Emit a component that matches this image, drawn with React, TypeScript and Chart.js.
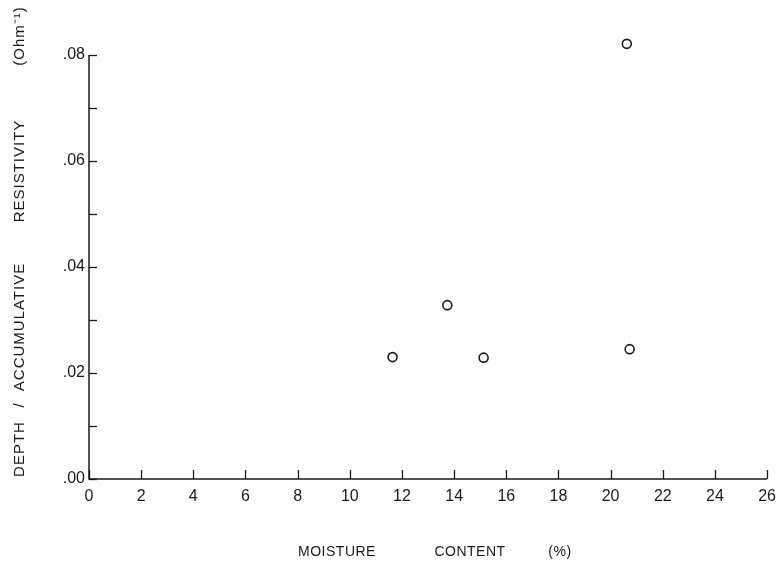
import React, { useEffect, useRef } from "react";
import { Chart, registerables } from "chart.js";

Chart.register(...registerables);

const moisture = [11.64, 13.74, 15.13, 20.62, 20.73];
const conductance = [0.0230, 0.0328, 0.0229, 0.0821, 0.0245];
const xTicks = [0, 2, 4, 6, 8, 10, 12, 14, 16, 18, 20, 22, 24, 26];
const yTicks = [0, 0.01, 0.02, 0.03, 0.04, 0.05, 0.06, 0.07, 0.08];
const yLabelled = [0, 0.02, 0.04, 0.06, 0.08];
const xTitleWords = ["MOISTURE", "CONTENT", "(%)"];
const yTitleWords = ["DEPTH", "/", "ACCUMULATIVE", "RESISTIVITY", "(Ohm\u207B\u00B9)"];

const INK = "#1a1a1a";
const FONT = "'Liberation Sans', Arial, sans-serif";

const decorPlugin = {
  id: "decor",
  afterDraw(chart: any) {
    const { ctx, chartArea, scales } = chart;
    const xs = scales.x;
    const ys = scales.y;
    const left = chartArea.left;
    const bottom = chartArea.bottom;
    ctx.save();
    ctx.strokeStyle = INK;
    ctx.lineWidth = 1.5;
    // axis lines
    const yTop = ys.getPixelForValue(yTicks[yTicks.length - 1]);
    const xRight = xs.getPixelForValue(xTicks[xTicks.length - 1]);
    ctx.beginPath();
    ctx.moveTo(left, yTop);
    ctx.lineTo(left, bottom);
    ctx.lineTo(xRight, bottom);
    ctx.stroke();
    ctx.lineWidth = 1.3;
    yTicks.forEach((v) => {
      const py = Math.round(ys.getPixelForValue(v)) + 0.5;
      ctx.beginPath();
      ctx.moveTo(left, py);
      ctx.lineTo(left + 8, py);
      ctx.stroke();
    });
    xTicks.forEach((v) => {
      const px = Math.round(xs.getPixelForValue(v)) + 0.5;
      ctx.beginPath();
      ctx.moveTo(px, bottom);
      ctx.lineTo(px, bottom - 9);
      ctx.stroke();
    });
    // axis titles
    ctx.fillStyle = INK;
    ctx.textAlign = "center";
    ctx.textBaseline = "middle";
    ctx.font = `14px ${FONT}`;
    (ctx as any).letterSpacing = "0.5px";
    const xCenters = [337, 470, 560];
    xTitleWords.forEach((w, i) => ctx.fillText(w, xCenters[i], 552));
    ctx.font = `15px ${FONT}`;
    (ctx as any).letterSpacing = "1px";
    const yCenters = [449, 405, 327, 171, 36];
    yTitleWords.forEach((w, i) => {
      ctx.save();
      ctx.translate(20, yCenters[i]);
      ctx.rotate(-Math.PI / 2);
      ctx.fillText(w, 0, 0);
      ctx.restore();
    });
    ctx.restore();
  },
};

export default function App() {
  const ref = useRef<HTMLCanvasElement | null>(null);
  useEffect(() => {
    if (!ref.current) return;
    const chart = new Chart(ref.current, {
      type: "scatter",
      data: {
        datasets: [
          {
            data: moisture.map((m, i) => ({ x: m, y: conductance[i] })),
            pointRadius: 4.5,
            pointBorderWidth: 1.6,
            pointBorderColor: INK,
            pointBackgroundColor: "rgba(255,255,255,0)",
          },
        ],
      },
      options: {
        responsive: false,
        animation: false,
        devicePixelRatio: 1,
        layout: { padding: { left: 0, top: 28.5, right: 16, bottom: 0 } },
        plugins: {
          legend: { display: false },
          tooltip: { enabled: false },
        },
        scales: {
          x: {
            type: "linear",
            min: 0,
            max: 26,
            grid: { display: false, drawTicks: false },
            border: { display: false },
            afterBuildTicks: (s: any) => {
              s.ticks = xTicks.map((v) => ({ value: v }));
            },
            ticks: {
              padding: 8,
              color: INK,
              font: { family: FONT, size: 16 },
              maxRotation: 0,
              autoSkip: false,
            },
            afterFit: (s: any) => {
              s.height = 93;
            },
          },
          y: {
            type: "linear",
            min: 0,
            max: 0.085,
            grid: { display: false, drawTicks: false },
            border: { display: false },
            afterBuildTicks: (s: any) => {
              s.ticks = yLabelled.map((v) => ({ value: v }));
            },
            ticks: {
              padding: 4,
              color: INK,
              font: { family: FONT, size: 16 },
              autoSkip: false,
              callback: (v: any) => "." + String(Math.round(Number(v) * 100)).padStart(2, "0"),
            },
            afterFit: (s: any) => {
              s.width = 89;
            },
          },
        },
      },
      plugins: [decorPlugin],
    });
    return () => chart.destroy();
  }, []);
  return (
    <div style={{ position: "fixed", left: 0, top: 0, width: 784, height: 572, background: "#fff" }}>
      <canvas ref={ref} width={784} height={572} />
    </div>
  );
}
